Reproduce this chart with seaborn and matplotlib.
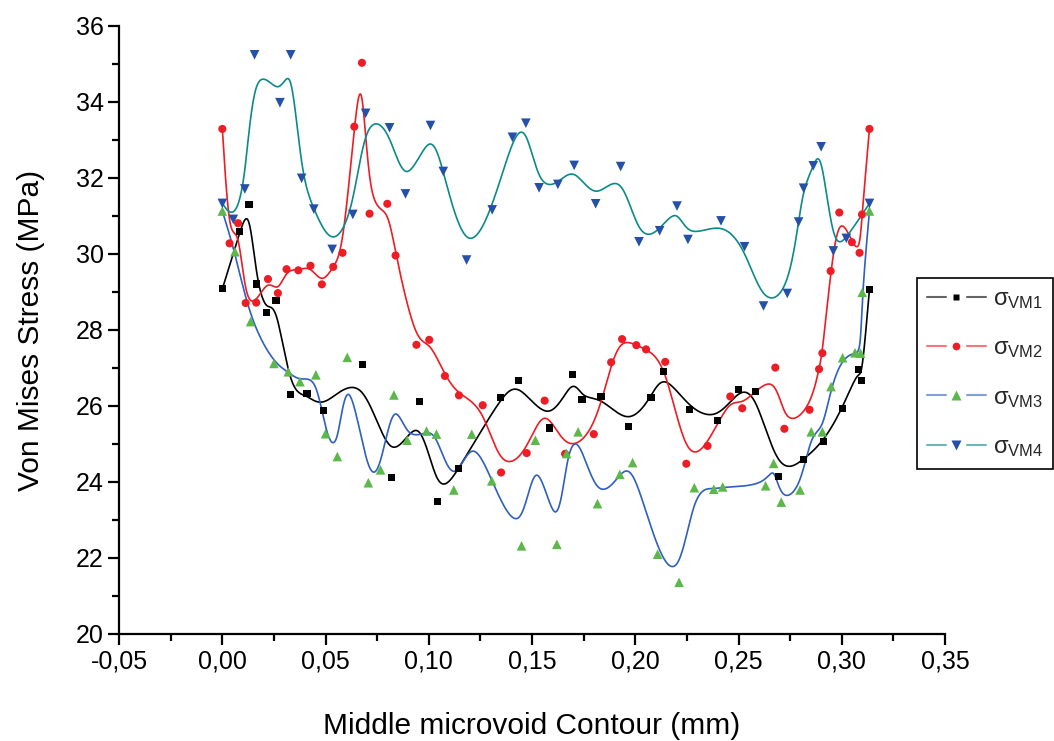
import numpy as np
import pandas as pd
import matplotlib
matplotlib.use("Agg")
import matplotlib.pyplot as plt
import seaborn as sns
from matplotlib.lines import Line2D
from matplotlib.legend_handler import HandlerBase
from matplotlib.ticker import MultipleLocator, FuncFormatter

# ---------------- data ----------------
x_vm1 = [0.000, 0.0085, 0.0129, 0.0167, 0.0216, 0.0260, 0.0332, 0.0410, 0.0489, 0.0680,
         0.0818, 0.0953, 0.1042, 0.1145, 0.1349, 0.1433, 0.1586, 0.1696, 0.1742, 0.1834,
         0.1968, 0.2076, 0.2137, 0.2263, 0.2397, 0.2499, 0.2583, 0.2694, 0.2814, 0.2912,
         0.3004, 0.3081, 0.3096, 0.3134]
y_vm1 = [29.08, 30.58, 31.31, 29.21, 28.47, 28.77, 26.29, 26.33, 25.87, 27.08,
         24.11, 26.12, 23.48, 24.35, 26.23, 26.68, 25.42, 26.82, 26.17, 26.25,
         25.46, 26.22, 26.91, 25.91, 25.62, 26.44, 26.38, 24.14, 24.58, 25.06,
         25.94, 26.97, 26.67, 29.07]

x_vm2 = [0.000, 0.0035, 0.0076, 0.0113, 0.0164, 0.0221, 0.0269, 0.0311, 0.0368, 0.0427,
         0.0482, 0.0537, 0.0582, 0.0639, 0.0676, 0.0713, 0.0799, 0.0839, 0.0940, 0.1002,
         0.1078, 0.1146, 0.1261, 0.1350, 0.1474, 0.1561, 0.1660, 0.1799, 0.1883, 0.1936,
         0.2005, 0.2052, 0.2145, 0.2247, 0.2350, 0.2460, 0.2518, 0.2678, 0.2722, 0.2844,
         0.2890, 0.2906, 0.2946, 0.2988, 0.3049, 0.3086, 0.3098, 0.3134]
y_vm2 = [33.29, 30.28, 30.81, 28.71, 28.72, 29.34, 28.97, 29.60, 29.57, 29.69,
         29.20, 29.66, 30.03, 33.35, 35.03, 31.06, 31.32, 29.96, 27.61, 27.74,
         26.79, 26.28, 26.02, 24.25, 24.76, 26.14, 24.74, 25.26, 27.15, 27.76,
         27.60, 27.49, 27.16, 24.48, 24.95, 26.25, 25.94, 27.01, 25.40, 25.90,
         26.97, 27.39, 29.55, 31.09, 30.31, 30.03, 31.04, 33.29]

x_vm3 = [0.000, 0.0061, 0.0137, 0.0250, 0.0319, 0.0376, 0.0453, 0.0500, 0.0557, 0.0605,
         0.0707, 0.0766, 0.0831, 0.0895, 0.0989, 0.1037, 0.1121, 0.1208, 0.1305, 0.1449,
         0.1516, 0.1620, 0.1667, 0.1723, 0.1817, 0.1925, 0.1987, 0.2108, 0.2212, 0.2286,
         0.2380, 0.2423, 0.2631, 0.2670, 0.2707, 0.2798, 0.2852, 0.2906, 0.2948, 0.3004,
         0.3064, 0.3091, 0.3099, 0.3134]
y_vm3 = [31.13, 30.06, 28.22, 27.12, 26.90, 26.64, 26.82, 25.27, 24.67, 27.28,
         23.98, 24.32, 26.29, 25.10, 25.34, 25.26, 23.79, 25.26, 24.03, 22.32,
         25.10, 22.36, 24.75, 25.32, 23.43, 24.20, 24.51, 22.10, 21.36, 23.85,
         23.81, 23.87, 23.90, 24.49, 23.47, 23.79, 25.32, 25.32, 26.51, 27.27,
         27.40, 27.39, 28.99, 31.13]

x_vm4 = [0.000, 0.0053, 0.0109, 0.0156, 0.0279, 0.0331, 0.0384, 0.0443, 0.0532, 0.0632,
         0.0694, 0.0810, 0.0887, 0.1008, 0.1070, 0.1183, 0.1307, 0.1405, 0.1470, 0.1534,
         0.1625, 0.1704, 0.1808, 0.1929, 0.2018, 0.2118, 0.2202, 0.2255, 0.2415, 0.2529,
         0.2621, 0.2736, 0.2791, 0.2815, 0.2862, 0.2900, 0.2959, 0.3022, 0.3134]
y_vm4 = [31.33, 30.91, 31.71, 35.24, 33.98, 35.24, 31.99, 31.18, 30.12, 31.04,
         33.70, 33.32, 31.58, 33.38, 32.17, 29.84, 31.16, 33.07, 33.44, 31.74,
         31.83, 32.33, 31.32, 32.30, 30.32, 30.61, 31.26, 30.38, 30.87, 30.19,
         28.63, 28.96, 30.84, 31.73, 32.32, 32.82, 30.08, 30.41, 31.33]

series_names = ["VM1", "VM2", "VM3", "VM4"]
legend_labels = [r"σ$_{\mathregular{VM1}}$", r"σ$_{\mathregular{VM2}}$",
                 r"σ$_{\mathregular{VM3}}$", r"σ$_{\mathregular{VM4}}$"]
x_ticks = [-0.05, 0.00, 0.05, 0.10, 0.15, 0.20, 0.25, 0.30, 0.35]
y_ticks = [20, 22, 24, 26, 28, 30, 32, 34, 36]

# ---------------- styles ----------------
line_colors = ["#000000", "#ee1c24", "#2f5fbf", "#0b8a8a"]
marker_colors = ["#000000", "#ee1c24", "#5cb84a", "#2450a8"]
markers = ["s", "o", "^", "v"]
marker_sizes = [26, 34, 48, 48]


def bspline(px, py, n_per_seg=30):
    """Uniform cubic B-spline using data points as control points (ends clamped)."""
    P = np.column_stack([px, py]).astype(float)
    P = np.vstack([P[0], P[0], P, P[-1], P[-1]])
    t = np.linspace(0, 1, n_per_seg, endpoint=False)
    b0 = (1 - t) ** 3 / 6
    b1 = (3 * t ** 3 - 6 * t ** 2 + 4) / 6
    b2 = (-3 * t ** 3 + 3 * t ** 2 + 3 * t + 1) / 6
    b3 = t ** 3 / 6
    out = []
    for i in range(len(P) - 3):
        seg = (np.outer(b0, P[i]) + np.outer(b1, P[i + 1]) +
               np.outer(b2, P[i + 2]) + np.outer(b3, P[i + 3]))
        out.append(seg)
    out.append(P[-1][None, :])
    out = np.vstack(out)
    return out[:, 0], out[:, 1]


class LineMarkerLine(HandlerBase):
    """Legend handle drawn as: line — marker — line."""

    def create_artists(self, legend, orig_handle, xdescent, ydescent,
                       width, height, fontsize, trans):
        y = height / 2.0 - ydescent
        x0 = -xdescent
        x1 = x0 + width
        cx = x0 + width / 2.0
        gap = 0.18 * width
        kw = dict(color=orig_handle.get_color(), linewidth=orig_handle.get_linewidth(),
                  alpha=0.6)
        l1 = Line2D([x0, cx - gap], [y, y], **kw)
        l2 = Line2D([cx + gap, x1], [y, y], **kw)
        mk = Line2D([cx], [y], linestyle="none", marker=orig_handle.get_marker(),
                    markersize=orig_handle.get_markersize(),
                    markerfacecolor=orig_handle.get_markerfacecolor(),
                    markeredgecolor="none")
        for a in (l1, l2, mk):
            a.set_transform(trans)
        return [l1, l2, mk]


sns.set_theme(style="ticks")
plt.rcParams["font.family"] = ["Liberation Sans", "DejaVu Sans"]
plt.rcParams["mathtext.fontset"] = "custom"
plt.rcParams["mathtext.rm"] = "Liberation Sans"
plt.rcParams["mathtext.it"] = "Liberation Sans"
plt.rcParams["mathtext.bf"] = "Liberation Sans:bold"

fig = plt.figure(figsize=(10.54, 7.41), dpi=100)
ax = fig.add_axes([0.113, 0.1444, 0.7836, 0.8206])

all_x = [x_vm1, x_vm2, x_vm3, x_vm4]
all_y = [y_vm1, y_vm2, y_vm3, y_vm4]

for i, name in enumerate(series_names):
    bx, by = bspline(all_x[i], all_y[i])
    curve = pd.DataFrame({"x": bx, "y": by})
    sns.lineplot(data=curve, x="x", y="y", sort=False, estimator=None,
                 color=line_colors[i], linewidth=1.2, ax=ax)
for i, name in enumerate(series_names):
    pts = pd.DataFrame({"x": all_x[i], "y": all_y[i]})
    sns.scatterplot(data=pts, x="x", y="y", marker=markers[i], s=marker_sizes[i],
                    color=marker_colors[i], edgecolor="none", linewidth=0,
                    ax=ax, zorder=3)

ax.set_xlim(-0.05, 0.35)
ax.set_ylim(20, 36)
ax.set_xticks(x_ticks)
ax.set_yticks(y_ticks)
ax.xaxis.set_minor_locator(MultipleLocator(0.025))
ax.yaxis.set_minor_locator(MultipleLocator(1))


def fmt_x(v, pos):
    v = round(v, 2) + 0.0
    return f"{v:.2f}".replace(".", ",")


ax.xaxis.set_major_formatter(FuncFormatter(fmt_x))
ax.set_xlabel("Middle microvoid Contour (mm)", fontsize=21.5, labelpad=28, color="black")
ax.set_ylabel("Von Mises Stress (MPa)", fontsize=21.5, labelpad=22, color="black")

sns.despine(ax=ax)
for sp in ["left", "bottom"]:
    ax.spines[sp].set_linewidth(1.6)
    ax.spines[sp].set_color("black")
ax.tick_params(which="major", direction="out", length=8, width=1.6,
               labelsize=18, colors="black", pad=3)
ax.tick_params(which="minor", direction="out", length=5, width=1.6, colors="black")
ax.grid(False)

# legend: line - marker - line style handles
handles = []
for i in range(4):
    handles.append(Line2D([], [], color=line_colors[i], linewidth=1.5,
                          marker=markers[i], markersize=np.sqrt(marker_sizes[i]) * 0.95,
                          markerfacecolor=marker_colors[i]))

leg = fig.legend(handles, legend_labels, loc="upper left",
                 bbox_to_anchor=(0.870, 0.6248), bbox_transform=fig.transFigure,
                 handler_map={Line2D: LineMarkerLine()},
                 fontsize=17, handlelength=2.5, handletextpad=0.3,
                 labelspacing=1.12, borderpad=0.42, borderaxespad=0,
                 frameon=True, fancybox=False, framealpha=1)
leg.get_frame().set_edgecolor("black")
leg.get_frame().set_linewidth(1.2)

fig.savefig("out.png", dpi=100, facecolor="white")
